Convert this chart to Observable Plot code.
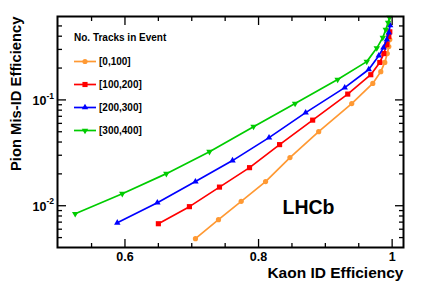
<!DOCTYPE html>
<html><head><meta charset="utf-8">
<script src="https://cdn.jsdelivr.net/npm/d3@7"></script>
<script src="https://cdn.jsdelivr.net/npm/@observablehq/plot@0.6"></script>
<style>body{margin:0;background:#fff} svg{display:block}</style>
</head><body><div id="chart"></div>
<script>
// ---- data ----
const seriesNames = ["[0,100]", "[100,200]", "[200,300]", "[300,400]"];
const kaonEff_0_100   = [0.7055, 0.740, 0.774, 0.8105, 0.847, 0.890, 0.9395, 0.971, 0.983, 0.989, 0.9927, 0.995, 0.9965];
const pionMisId_0_100 = [0.00488, 0.00738, 0.0110, 0.0169, 0.0285, 0.0501, 0.0923, 0.143, 0.185, 0.226, 0.274, 0.319, 0.372];
const kaonEff_100_200   = [0.650, 0.6965, 0.7415, 0.7865, 0.8315, 0.881, 0.9335, 0.968, 0.9815, 0.9875, 0.992, 0.995, 0.9965];
const pionMisId_100_200 = [0.00676, 0.0098, 0.0150, 0.0229, 0.0378, 0.0644, 0.1135, 0.173, 0.226, 0.274, 0.333, 0.397, 0.44];
const kaonEff_200_300   = [0.5885, 0.6485, 0.7055, 0.761, 0.8157, 0.8705, 0.929, 0.965, 0.980, 0.987, 0.992, 0.995, 0.997];
const pionMisId_200_300 = [0.0069, 0.01067, 0.0169, 0.0267, 0.0440, 0.0758, 0.1306, 0.194, 0.262, 0.312, 0.372, 0.433, 0.505];
const kaonEff_300_400   = [0.5255, 0.596, 0.662, 0.7265, 0.7925, 0.8547, 0.9184, 0.962, 0.977, 0.986, 0.9905, 0.994, 0.996];
const pionMisId_300_400 = [0.0084, 0.0130, 0.0201, 0.0324, 0.0559, 0.0923, 0.1556, 0.230, 0.309, 0.388, 0.462, 0.538, 0.60];

const xMajorTicks = [0.6, 0.8, 1.0];
const xMinorTicks = [0.55, 0.65, 0.7, 0.75, 0.85, 0.9, 0.95];
const yMajorTicks = [0.01, 0.1];
const yMinorTicks = [0.005, 0.006, 0.007, 0.008, 0.009, 0.02, 0.03, 0.04, 0.05, 0.06, 0.07, 0.08, 0.09, 0.2, 0.3, 0.4, 0.5];
const yTickExponents = ["-2", "-1"];
const xTitle = "Kaon ID Efficiency";
const yTitle = "Pion Mis-ID Efficiency";
const legendTitle = "No. Tracks in Event";
const experimentLabel = "LHCb";

// ---- styling ----
const colors = ["#ff9933", "#ff0000", "#0000ff", "#00cc00"];
const triangleDown = {
  draw(context, size) {
    const y = Math.sqrt(size / (Math.sqrt(3) * 3));
    context.moveTo(0, 2 * y);
    context.lineTo(-Math.sqrt(3) * y, -y);
    context.lineTo(Math.sqrt(3) * y, -y);
    context.closePath();
  }
};
const symbols = [d3.symbolCircle, d3.symbolSquare, d3.symbolTriangle, triangleDown];
const radii = [2.6, 2.9, 2.4, 2.4];
const FONT = "'Liberation Sans', Arial, Helvetica, sans-serif";

const xs = [kaonEff_0_100, kaonEff_100_200, kaonEff_200_300, kaonEff_300_400];
const ys = [pionMisId_0_100, pionMisId_100_200, pionMisId_200_300, pionMisId_300_400];
const series = xs.map((xv, s) => xv.map((x, i) => ({x, y: ys[s][i], s})));

const seriesMarks = series.flatMap((rows, s) => [
  Plot.line(rows, {x: "x", y: "y", stroke: colors[s], strokeWidth: 1.7}),
  Plot.dot(rows, {x: "x", y: "y", fill: colors[s], stroke: "none", symbol: symbols[s], r: radii[s]})
]);

const noText = () => "";
const plot = Plot.plot({
  width: 427, height: 291,
  marginLeft: 57, marginRight: 24, marginTop: 16, marginBottom: 44,
  x: {domain: [0.499, 1.017]},
  y: {type: "log", domain: [0.00403, 0.614]},
  style: {fontFamily: FONT, background: "white", color: "black"},
  marks: [
    ...seriesMarks,
    Plot.axisX(xMajorTicks, {anchor: "bottom", tickSize: -8, tickFormat: noText, label: null, strokeWidth: 1.3}),
    Plot.axisX(xMinorTicks, {anchor: "bottom", tickSize: -4, tickFormat: noText, label: null, strokeWidth: 1.3}),
    Plot.axisX(xMajorTicks, {anchor: "top", tickSize: -8, tickFormat: noText, label: null, strokeWidth: 1.3}),
    Plot.axisX(xMinorTicks, {anchor: "top", tickSize: -4, tickFormat: noText, label: null, strokeWidth: 1.3}),
    Plot.axisY(yMajorTicks, {anchor: "left", tickSize: -9, tickFormat: noText, label: null, strokeWidth: 1.3}),
    Plot.axisY(yMinorTicks, {anchor: "left", tickSize: -5, tickFormat: noText, label: null, strokeWidth: 1.3}),
    Plot.axisY(yMajorTicks, {anchor: "right", tickSize: -9, tickFormat: noText, label: null, strokeWidth: 1.3}),
    Plot.axisY(yMinorTicks, {anchor: "right", tickSize: -5, tickFormat: noText, label: null, strokeWidth: 1.3}),
    Plot.frame({stroke: "black", strokeWidth: 2}),
    // tick labels
    Plot.text(xMajorTicks, {x: d => d, frameAnchor: "bottom", dy: 5, lineAnchor: "top",
      text: d => d === 1 ? "1" : d.toFixed(1), fontSize: 12.5, fontWeight: "bold", fill: "black"}),
    Plot.text(yMajorTicks, {y: d => d, frameAnchor: "left", dx: -11, dy: 1, textAnchor: "end", lineAnchor: "middle",
      text: () => "10", fontSize: 12.5, fontWeight: "bold", fill: "black"}),
    Plot.text(yMajorTicks, {y: d => d, frameAnchor: "left", dx: -11, dy: -4, textAnchor: "start", lineAnchor: "middle",
      text: (d, i) => yTickExponents[i], fontSize: 8.5, fontWeight: "bold", fill: "black"}),
    // axis titles
    Plot.text([xTitle], {frameAnchor: "bottom-right", dy: 30, textAnchor: "end", lineAnchor: "bottom",
      text: d => d, fontSize: 15.5, fontWeight: "bold", fill: "black"}),
    Plot.text([yTitle], {frameAnchor: "top-left", dx: -37, dy: 0, rotate: -90, textAnchor: "end", lineAnchor: "bottom",
      text: d => d, fontSize: 14.8, fontWeight: "bold", fill: "black"}),
    Plot.text([experimentLabel], {frameAnchor: "top-left", dx: 251, dy: 197, textAnchor: "middle", lineAnchor: "bottom",
      text: d => d, fontSize: 19.5, fontWeight: "bold", fill: "black"})
  ]
});

// legend inside the frame
const svg = d3.select(plot);
const lg = svg.append("g").attr("font-family", FONT).attr("font-weight", "bold")
  .attr("font-size", 10).attr("text-anchor", "start");
lg.append("text").attr("x", 74).attr("y", 41).attr("fill", "black").attr("text-anchor", "start").text(legendTitle);
seriesNames.forEach((name, i) => {
  const cy = 61.5 + i * 23;
  lg.append("line").attr("x1", 74).attr("x2", 96).attr("y1", cy).attr("y2", cy)
    .attr("stroke", colors[i]).attr("stroke-width", 1.7);
  lg.append("path").attr("d", d3.symbol(symbols[i], Math.PI * radii[i] * radii[i])())
    .attr("transform", `translate(85,${cy})`).attr("fill", colors[i]);
  lg.append("text").attr("x", 99).attr("y", cy).attr("dy", "0.35em").attr("fill", "black")
    .attr("text-anchor", "start").text(name);
});

document.getElementById("chart").appendChild(plot);
</script>
</body></html>
